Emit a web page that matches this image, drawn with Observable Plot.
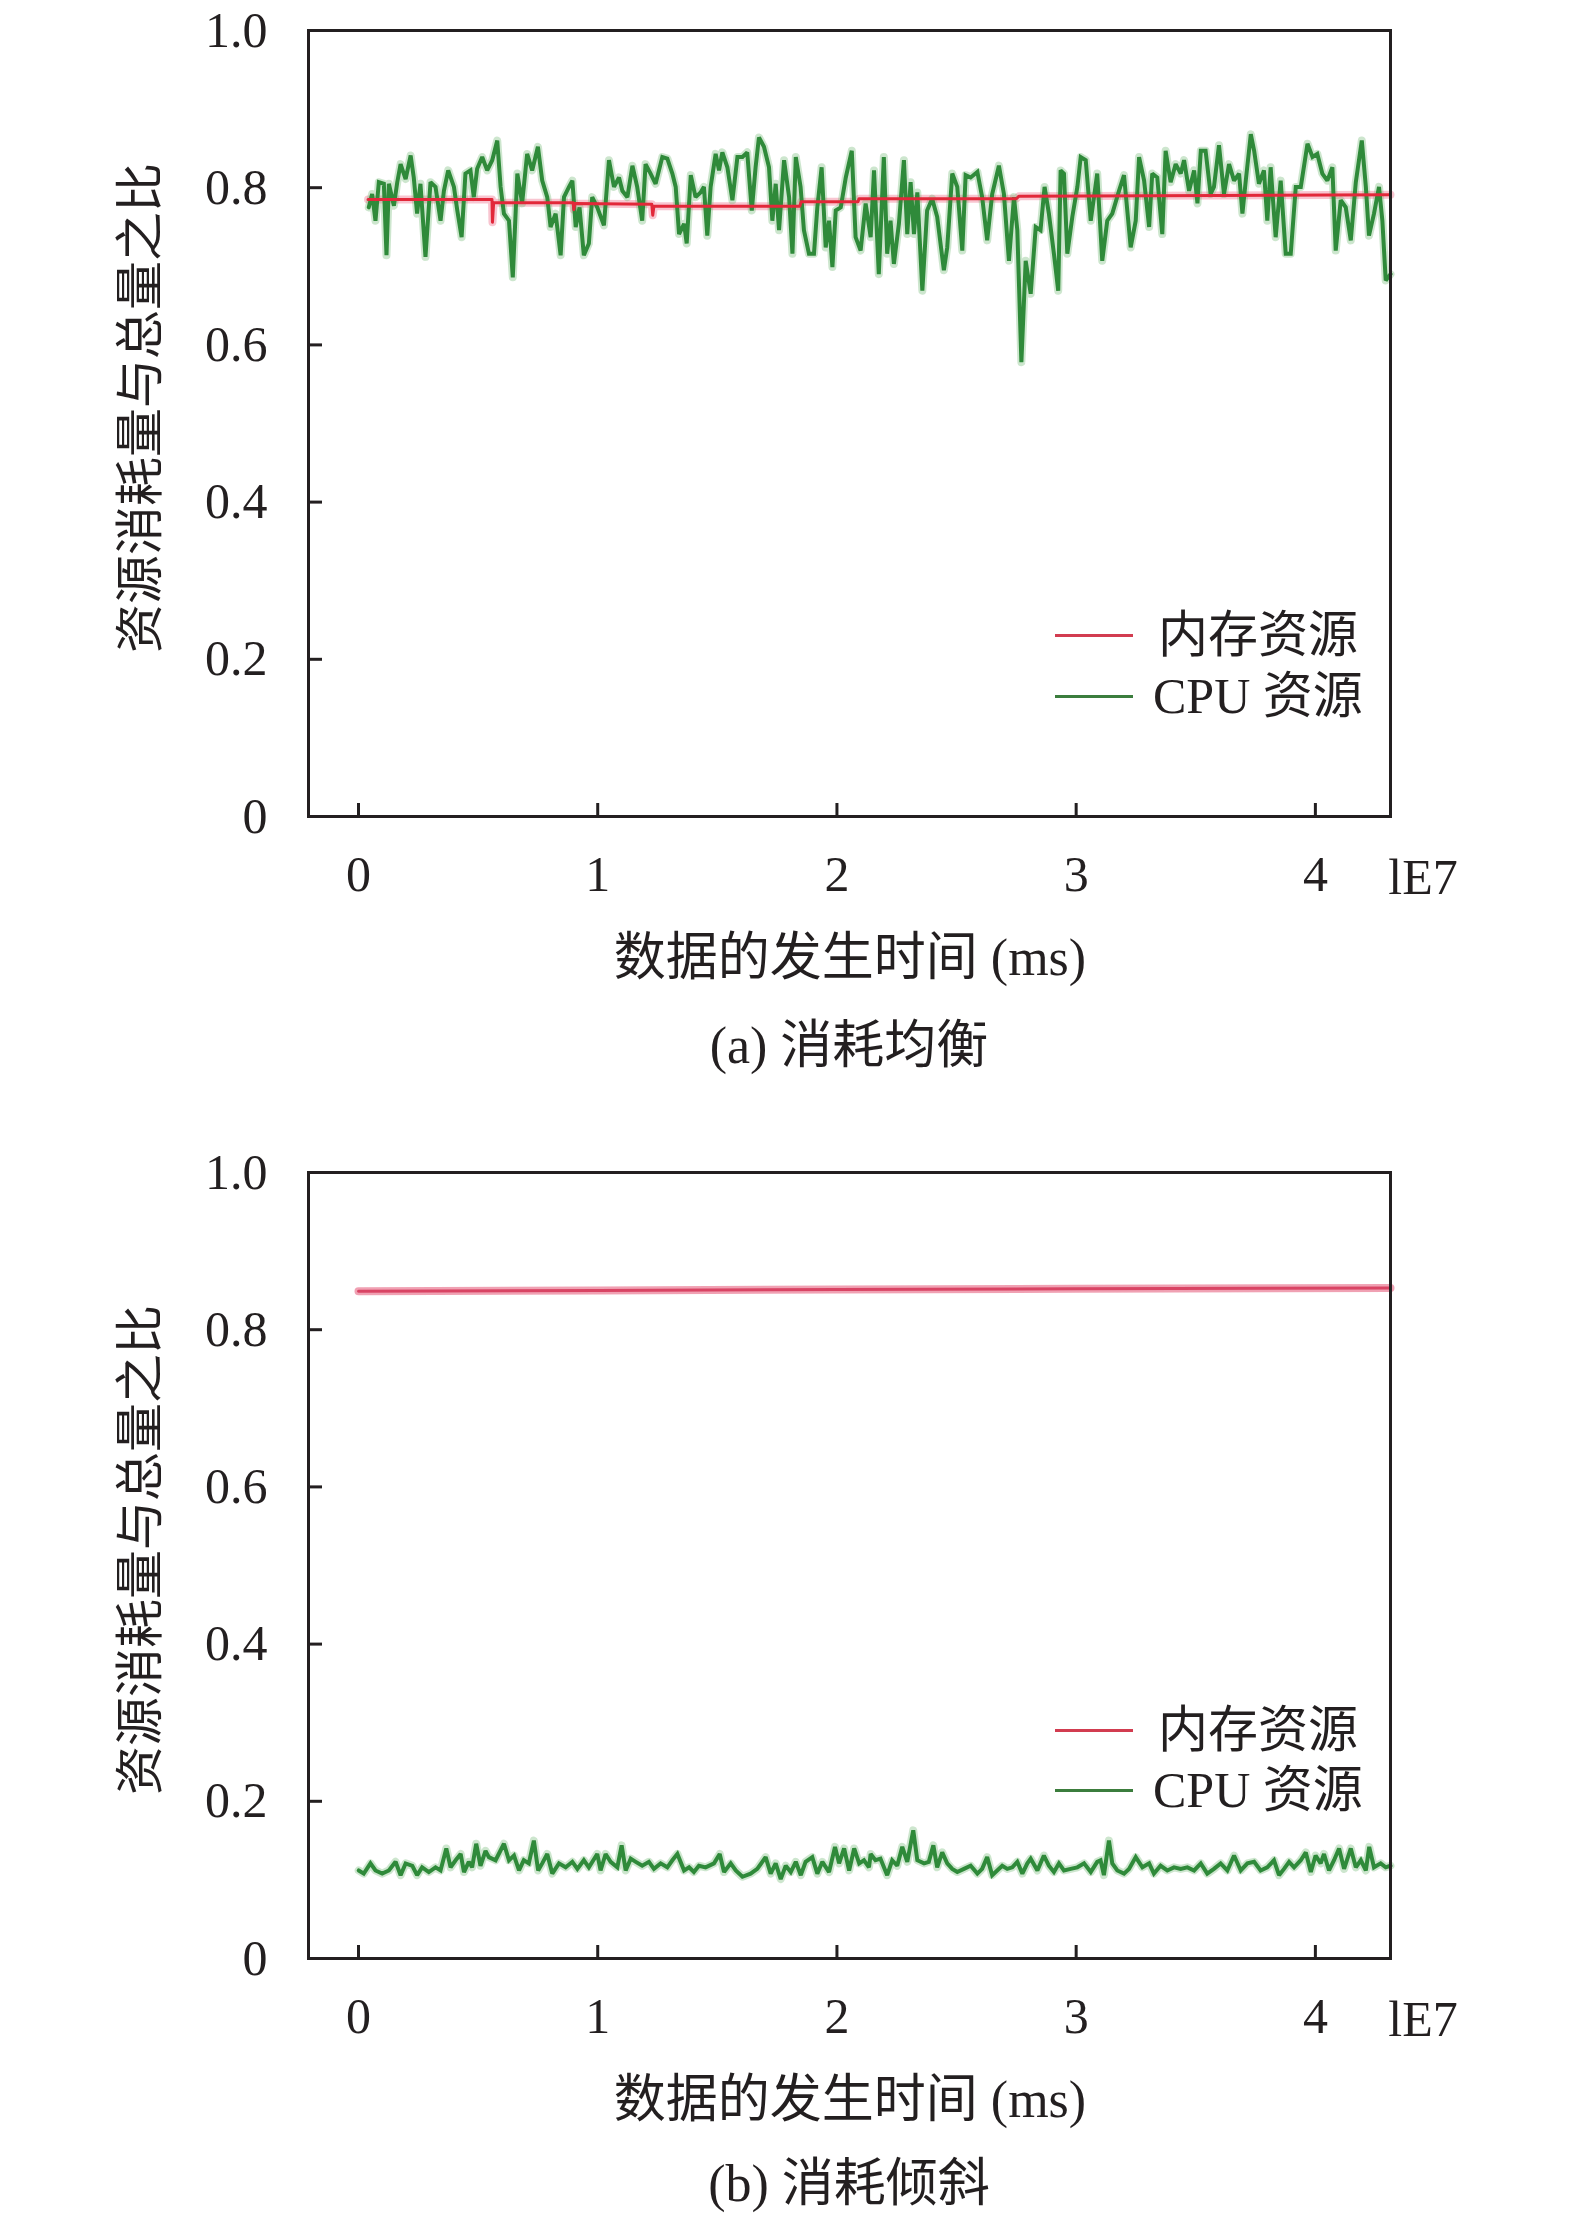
<!DOCTYPE html>
<html>
<head>
<meta charset="utf-8">
<script src="https://cdn.jsdelivr.net/npm/d3@7"></script>
<script src="https://cdn.jsdelivr.net/npm/@observablehq/plot@0.6"></script>
<style>
  html, body { margin: 0; padding: 0; background: #fff; }
  #wrap { position: relative; width: 1575px; height: 2219px; background: #fff; overflow: hidden; }
  .panel { position: absolute; left: 0; }
  .txt { position: absolute; font-family: "Liberation Serif", "Noto Sans CJK SC", serif; font-size: 50px; color: #231f20; white-space: nowrap; line-height: 1; }
  .big { font-size: 52px; }
  .ylab { font-size: 49px; }
  .c { transform: translate(-50%, -50%); }
  .l { transform: translate(0, -50%); }
  .rot { transform: translate(-50%, -50%) rotate(-90deg); }
  .leg { position: absolute; height: 3px; width: 78px; }
</style>
</head>
<body>
<div id="wrap"></div>
<script>
// ---- tick labels ----
const xTicks = [0, 1, 2, 3, 4];
const xTickLabels = ["0", "1", "2", "3", "4"];
const yTicks = [0, 0.2, 0.4, 0.6, 0.8, 1.0];
const yTickLabels = ["0", "0.2", "0.4", "0.6", "0.8", "1.0"];
const seriesNames = ["内存资源", "CPU 资源"];
const xTitle = "数据的发生时间 (ms)";
const yTitle = "资源消耗量与总量之比";
const xUnit = "lE7";
const captions = ["(a) 消耗均衡", "(b) 消耗倾斜"];

// ---- (a) balanced: memory ----
const memA = [[0.04,0.785],[0.558,0.785],[0.56,0.756],[0.565,0.781],[0.897,0.781],[0.90,0.772],[0.905,0.780],
  [1.226,0.779],[1.23,0.765],[1.235,0.7765],[1.845,0.7765],[1.85,0.782],[2.088,0.782],[2.092,0.786],
  [2.75,0.786],[2.76,0.789],[3.6,0.790],[4.314,0.791]];

// ---- (a) balanced: CPU ----
const cpuA = [[0.043,0.775],[0.057,0.792],[0.071,0.758],[0.085,0.807],[0.106,0.805],[0.117,0.714],[0.127,0.805],
  [0.148,0.777],[0.162,0.807],[0.176,0.830],[0.197,0.811],[0.218,0.841],[0.231,0.813],[0.245,0.767],[0.259,0.805],
  [0.280,0.712],[0.301,0.807],[0.322,0.801],[0.343,0.758],[0.357,0.796],[0.375,0.822],[0.399,0.801],[0.413,0.771],
  [0.431,0.737],[0.447,0.818],[0.468,0.822],[0.482,0.788],[0.496,0.824],[0.517,0.839],[0.538,0.822],[0.559,0.835],
  [0.580,0.860],[0.594,0.801],[0.608,0.767],[0.629,0.758],[0.645,0.686],[0.664,0.818],[0.684,0.780],[0.705,0.843],
  [0.726,0.822],[0.750,0.852],[0.768,0.809],[0.789,0.788],[0.803,0.750],[0.824,0.767],[0.845,0.714],[0.859,0.788],
  [0.880,0.801],[0.894,0.809],[0.908,0.750],[0.924,0.775],[0.942,0.714],[0.963,0.729],[0.977,0.788],[0.998,0.775],
  [1.026,0.752],[1.047,0.835],[1.068,0.801],[1.089,0.813],[1.103,0.796],[1.124,0.788],[1.145,0.828],[1.165,0.801],
  [1.186,0.758],[1.200,0.830],[1.221,0.818],[1.242,0.805],[1.270,0.839],[1.291,0.837],[1.312,0.818],[1.326,0.801],
  [1.340,0.741],[1.361,0.754],[1.372,0.729],[1.389,0.816],[1.409,0.788],[1.430,0.794],[1.444,0.801],[1.458,0.739],
  [1.472,0.801],[1.493,0.843],[1.507,0.822],[1.521,0.845],[1.542,0.826],[1.563,0.784],[1.584,0.839],[1.605,0.839],
  [1.625,0.845],[1.644,0.771],[1.660,0.826],[1.674,0.864],[1.695,0.852],[1.716,0.826],[1.730,0.758],[1.744,0.805],
  [1.758,0.746],[1.779,0.835],[1.800,0.788],[1.814,0.716],[1.828,0.839],[1.848,0.801],[1.862,0.746],[1.883,0.716],
  [1.904,0.716],[1.918,0.775],[1.936,0.826],[1.953,0.724],[1.967,0.758],[1.981,0.699],[1.995,0.771],[2.016,0.775],
  [2.037,0.813],[2.062,0.847],[2.078,0.737],[2.099,0.720],[2.120,0.780],[2.141,0.737],[2.155,0.822],
  [2.175,0.690],[2.196,0.839],[2.210,0.716],[2.224,0.758],[2.238,0.703],[2.259,0.754],[2.280,0.835],[2.294,0.741],
  [2.308,0.807],[2.322,0.741],[2.336,0.794],[2.357,0.669],[2.377,0.771],[2.398,0.786],[2.419,0.763],[2.447,0.695],
  [2.461,0.724],[2.482,0.818],[2.503,0.801],[2.524,0.720],[2.538,0.816],[2.559,0.813],[2.587,0.820],[2.607,0.788],
  [2.628,0.733],[2.649,0.792],[2.677,0.828],[2.698,0.792],[2.719,0.707],[2.740,0.788],[2.754,0.746],[2.771,0.578],
  [2.789,0.707],[2.810,0.665],[2.831,0.750],[2.851,0.746],[2.868,0.801],[2.886,0.767],[2.907,0.716],[2.925,0.669],
  [2.935,0.822],[2.949,0.818],[2.963,0.716],[2.984,0.763],[3.005,0.801],[3.019,0.839],[3.040,0.835],[3.061,0.758],
  [3.088,0.818],[3.109,0.707],[3.130,0.758],[3.151,0.767],[3.179,0.796],[3.200,0.816],[3.228,0.724],[3.249,0.758],
  [3.263,0.839],[3.284,0.809],[3.305,0.750],[3.318,0.818],[3.339,0.813],[3.360,0.741],[3.374,0.847],[3.395,0.807],
  [3.416,0.830],[3.437,0.818],[3.451,0.835],[3.472,0.796],[3.493,0.822],[3.507,0.780],[3.521,0.847],[3.541,0.847],
  [3.562,0.792],[3.576,0.801],[3.597,0.854],[3.618,0.792],[3.639,0.830],[3.660,0.809],[3.681,0.818],[3.695,0.767],
  [3.709,0.809],[3.730,0.868],[3.744,0.847],[3.764,0.805],[3.785,0.822],[3.799,0.758],[3.813,0.826],[3.834,0.737],
  [3.855,0.809],[3.876,0.716],[3.897,0.716],[3.918,0.801],[3.939,0.801],[3.967,0.856],[3.988,0.839],[4.008,0.843],
  [4.029,0.818],[4.050,0.809],[4.071,0.826],[4.085,0.720],[4.106,0.784],[4.127,0.775],[4.148,0.733],[4.169,0.807],
  [4.194,0.860],[4.211,0.801],[4.224,0.739],[4.245,0.767],[4.266,0.801],[4.280,0.758],[4.294,0.682],[4.314,0.690]];

// ---- (b) skewed: memory ----
const memB = [[0.0,0.849],[1.0,0.850],[2.0,0.851],[3.0,0.852],[4.314,0.853]];

// ---- (b) skewed: CPU ----
const cpuB = [[0.001,0.112],[0.022,0.108],[0.050,0.121],[0.071,0.112],[0.099,0.108],[0.127,0.112],[0.155,0.123],
  [0.176,0.106],[0.197,0.121],[0.225,0.118],[0.245,0.106],[0.266,0.116],[0.294,0.110],[0.322,0.116],[0.343,0.112],
  [0.367,0.140],[0.385,0.116],[0.406,0.125],[0.427,0.133],[0.441,0.110],[0.461,0.123],[0.475,0.116],[0.492,0.146],
  [0.510,0.118],[0.531,0.137],[0.545,0.129],[0.573,0.125],[0.608,0.146],[0.629,0.125],[0.650,0.131],[0.671,0.112],
  [0.691,0.125],[0.712,0.121],[0.733,0.150],[0.751,0.112],[0.768,0.121],[0.789,0.133],[0.810,0.108],[0.838,0.121],
  [0.866,0.116],[0.894,0.123],[0.915,0.114],[0.942,0.125],[0.963,0.116],[0.998,0.133],[1.012,0.112],[1.033,0.133],
  [1.054,0.123],[1.082,0.116],[1.100,0.144],[1.117,0.112],[1.138,0.127],[1.159,0.123],[1.186,0.118],[1.214,0.123],
  [1.235,0.114],[1.263,0.121],[1.291,0.116],[1.312,0.125],[1.333,0.133],[1.361,0.112],[1.382,0.116],[1.402,0.110],
  [1.423,0.118],[1.451,0.116],[1.486,0.121],[1.510,0.133],[1.528,0.110],[1.556,0.121],[1.577,0.112],[1.605,0.104],
  [1.639,0.108],[1.667,0.114],[1.702,0.129],[1.723,0.108],[1.744,0.121],[1.765,0.101],[1.786,0.118],[1.807,0.110],
  [1.828,0.123],[1.849,0.106],[1.869,0.123],[1.897,0.129],[1.918,0.108],[1.939,0.123],[1.967,0.110],[1.992,0.142],
  [2.009,0.121],[2.030,0.140],[2.051,0.112],[2.072,0.140],[2.093,0.121],[2.113,0.125],[2.134,0.116],[2.141,0.133],
  [2.161,0.125],[2.182,0.127],[2.210,0.106],[2.231,0.125],[2.252,0.118],[2.273,0.142],[2.294,0.123],[2.319,0.163],
  [2.336,0.125],[2.364,0.121],[2.384,0.123],[2.403,0.144],[2.419,0.116],[2.440,0.135],[2.461,0.121],[2.482,0.114],
  [2.503,0.110],[2.531,0.114],[2.559,0.118],[2.587,0.108],[2.607,0.114],[2.628,0.129],[2.649,0.106],[2.670,0.112],
  [2.691,0.118],[2.712,0.114],[2.733,0.116],[2.754,0.123],[2.775,0.108],[2.796,0.121],[2.810,0.127],[2.838,0.112],
  [2.865,0.131],[2.886,0.118],[2.907,0.110],[2.928,0.121],[2.949,0.112],[2.977,0.114],[3.005,0.116],[3.033,0.121],
  [3.061,0.110],[3.088,0.123],[3.102,0.125],[3.116,0.106],[3.137,0.150],[3.151,0.121],[3.172,0.112],[3.200,0.108],
  [3.221,0.114],[3.249,0.129],[3.277,0.116],[3.305,0.121],[3.325,0.108],[3.353,0.118],[3.381,0.112],[3.409,0.116],
  [3.437,0.114],[3.465,0.116],[3.493,0.112],[3.521,0.121],[3.548,0.108],[3.576,0.114],[3.604,0.121],[3.632,0.112],
  [3.660,0.131],[3.688,0.112],[3.716,0.121],[3.744,0.123],[3.771,0.112],[3.799,0.116],[3.827,0.125],[3.848,0.106],
  [3.869,0.114],[3.890,0.123],[3.911,0.116],[3.939,0.125],[3.960,0.135],[3.981,0.110],[4.001,0.131],[4.022,0.121],
  [4.036,0.133],[4.057,0.112],[4.078,0.125],[4.099,0.140],[4.120,0.114],[4.148,0.140],[4.169,0.116],[4.190,0.125],
  [4.211,0.112],[4.225,0.142],[4.245,0.116],[4.273,0.121],[4.294,0.116],[4.314,0.118]];

const colors = {
  memCore: "#e2283a", memBand: "#f07f96",
  memCoreB: "#d94464", memBandB: "#ec8aa0",
  cpu: "#2f8a3a", cpuHalo: "#6fb873", ink: "#231f20",
  legMem: "#d23c50", legCpu: "#3b7d3d"
};

const W = 1575, H = 920, MT = 30, MB = 104, ML = 308, MR = 185;
const frameW = W - ML - MR, frameH = H - MT - MB;

function makePanel(mem, cpu, coreColor, bandColor, bandWidth, bandOpacity) {
  return Plot.plot({
    width: W, height: H,
    marginTop: MT, marginBottom: MB, marginLeft: ML, marginRight: MR,
    x: {domain: [-0.209, 4.314], label: null},
    y: {domain: [0, 1], label: null},
    style: {fontFamily: "'Liberation Serif', 'Noto Sans CJK SC', serif", fontSize: "50px", color: colors.ink, background: "transparent", overflow: "visible"},
    marks: [
      Plot.axisY(yTicks, {tickSize: 0, tickPadding: 41, label: null, tickFormat: d => yTickLabels[yTicks.indexOf(d)]}),
      Plot.axisX(xTicks, {tickSize: 0, tickPadding: 39, label: null, tickFormat: d => xTickLabels[xTicks.indexOf(d)]}),
      Plot.tickY(yTicks, {y: d => d, stroke: colors.ink, strokeWidth: 3, insetRight: frameW - 14}),
      Plot.tickX(xTicks, {x: d => d, stroke: colors.ink, strokeWidth: 3, insetTop: frameH - 13}),
      Plot.line(mem, {x: d => d[0], y: d => d[1], stroke: bandColor, strokeWidth: bandWidth, strokeOpacity: bandOpacity, curve: "linear"}),
      Plot.line(cpu, {x: d => d[0], y: d => d[1], stroke: colors.cpuHalo, strokeWidth: 8, strokeOpacity: 0.35, curve: "linear"}),
      Plot.line(cpu, {x: d => d[0], y: d => d[1], stroke: colors.cpu, strokeWidth: 4, strokeLinejoin: "miter", strokeMiterlimit: 2, curve: "linear"}),
      Plot.line(mem, {x: d => d[0], y: d => d[1], stroke: coreColor, strokeWidth: 3, curve: "linear"}),
      Plot.frame({stroke: colors.ink, strokeWidth: 3})
    ]
  });
}

const wrap = document.getElementById("wrap");
const panels = [
  {top: 0, mem: memA, cpu: cpuA, core: colors.memCore, band: colors.memBand, bw: 8, bo: 0.45, leg: [635, 696], cap: 1046},
  {top: 1142, mem: memB, cpu: cpuB, core: colors.memCoreB, band: colors.memBandB, bw: 8, bo: 0.8, leg: [1730, 1790], cap: 1042}
];

function addText(str, cls, x, y) {
  const d = document.createElement("div");
  d.className = "txt " + cls;
  d.style.left = x + "px";
  d.style.top = y + "px";
  d.textContent = str;
  wrap.appendChild(d);
  return d;
}
function addLegLine(color, x, y) {
  const d = document.createElement("div");
  d.className = "leg";
  d.style.left = x + "px";
  d.style.top = (y - 1.5) + "px";
  d.style.background = color;
  wrap.appendChild(d);
}

panels.forEach((p, i) => {
  const svg = makePanel(p.mem, p.cpu, p.core, p.band, p.bw, p.bo);
  const holder = document.createElement("div");
  holder.className = "panel";
  holder.style.top = p.top + "px";
  holder.appendChild(svg);
  wrap.appendChild(holder);

  addText(yTitle, "rot ylab", 140, p.top + 408);
  addText(xUnit, "c", 1423, p.top + 877);
  addText(xTitle, "c big", 850, p.top + 958);
  addText(captions[i], "c big", 849, p.top + p.cap);

  addLegLine(colors.legMem, 1055, p.leg[0]);
  addLegLine(colors.legCpu, 1055, p.leg[1]);
  addText(seriesNames[0], "l", 1158, p.leg[0]);
  addText(seriesNames[1], "l", 1153, p.leg[1]);
});
</script>
</body>
</html>
